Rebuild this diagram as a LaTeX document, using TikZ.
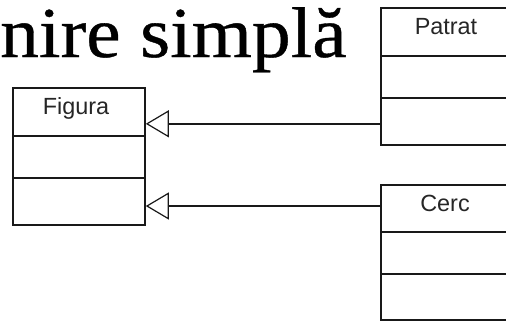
\documentclass[tikz,border=0pt]{standalone}
\usepackage{fontspec}
\setmainfont{Liberation Serif}
\newfontfamily\titlefont[FakeBold=0.5]{Liberation Serif}
\newfontfamily\umlfont{Liberation Sans}
\usetikzlibrary{arrows.meta,calc}
\tikzset{
  umlbox/.style={draw=black!90, line width=1.8bp, fill=white, minimum width=132bp, inner sep=0pt, anchor=north west},
  umlline/.style={draw=black!90, line width=1.8bp},
  umltext/.style={font=\umlfont\fontsize{23.5}{23.5}\selectfont, text=black!85, anchor=base, inner sep=0pt},
  inherit/.style={draw=black!90, line width=1.8bp,
    -{Triangle[open, length=23bp, width=27bp, line width=1.2bp]}},
  titletext/.style={font=\titlefont\fontsize{72}{72}\selectfont, anchor=base west, inner sep=0pt, xscale=1.08, transform shape}
}
\begin{document}
\begin{tikzpicture}[x=1bp, y=-1bp]
\clip (0,0) rectangle (506,321);
\fill[white] (0,0) rectangle (506,321);
% title
\node[titletext] (title) at (0,57) {nire simplă};
% Figura
\node[umlbox, minimum height=137bp] (figura) at (12,87) {};
\draw[umlline] (12,136) -- (144,136);
\draw[umlline] (12,178) -- (144,178);
\node[umltext] (figuratxt) at (76,114) {Figura};
% Patrat
\node[umlbox, minimum height=137bp] (patrat) at (380,7) {};
\draw[umlline] (380,56) -- (512,56);
\draw[umlline] (380,98) -- (512,98);
\node[umltext] (patrattxt) at (446,34) {Patrat};
% Cerc
\node[umlbox, minimum height=135bp] (cerc) at (380,184) {};
\draw[umlline] (380,232) -- (512,232);
\draw[umlline] (380,274) -- (512,274);
\node[umltext] (cerctxt) at (445,211) {Cerc};
% connectors
\coordinate (p1) at ($(patrat.south west)+(0,-22)$);
\coordinate (c1) at ($(cerc.north west)+(0,22)$);
\draw[inherit] (p1) -- (figura.east |- p1);
\draw[inherit] (c1) -- (figura.east |- c1);
\end{tikzpicture}
\end{document}
